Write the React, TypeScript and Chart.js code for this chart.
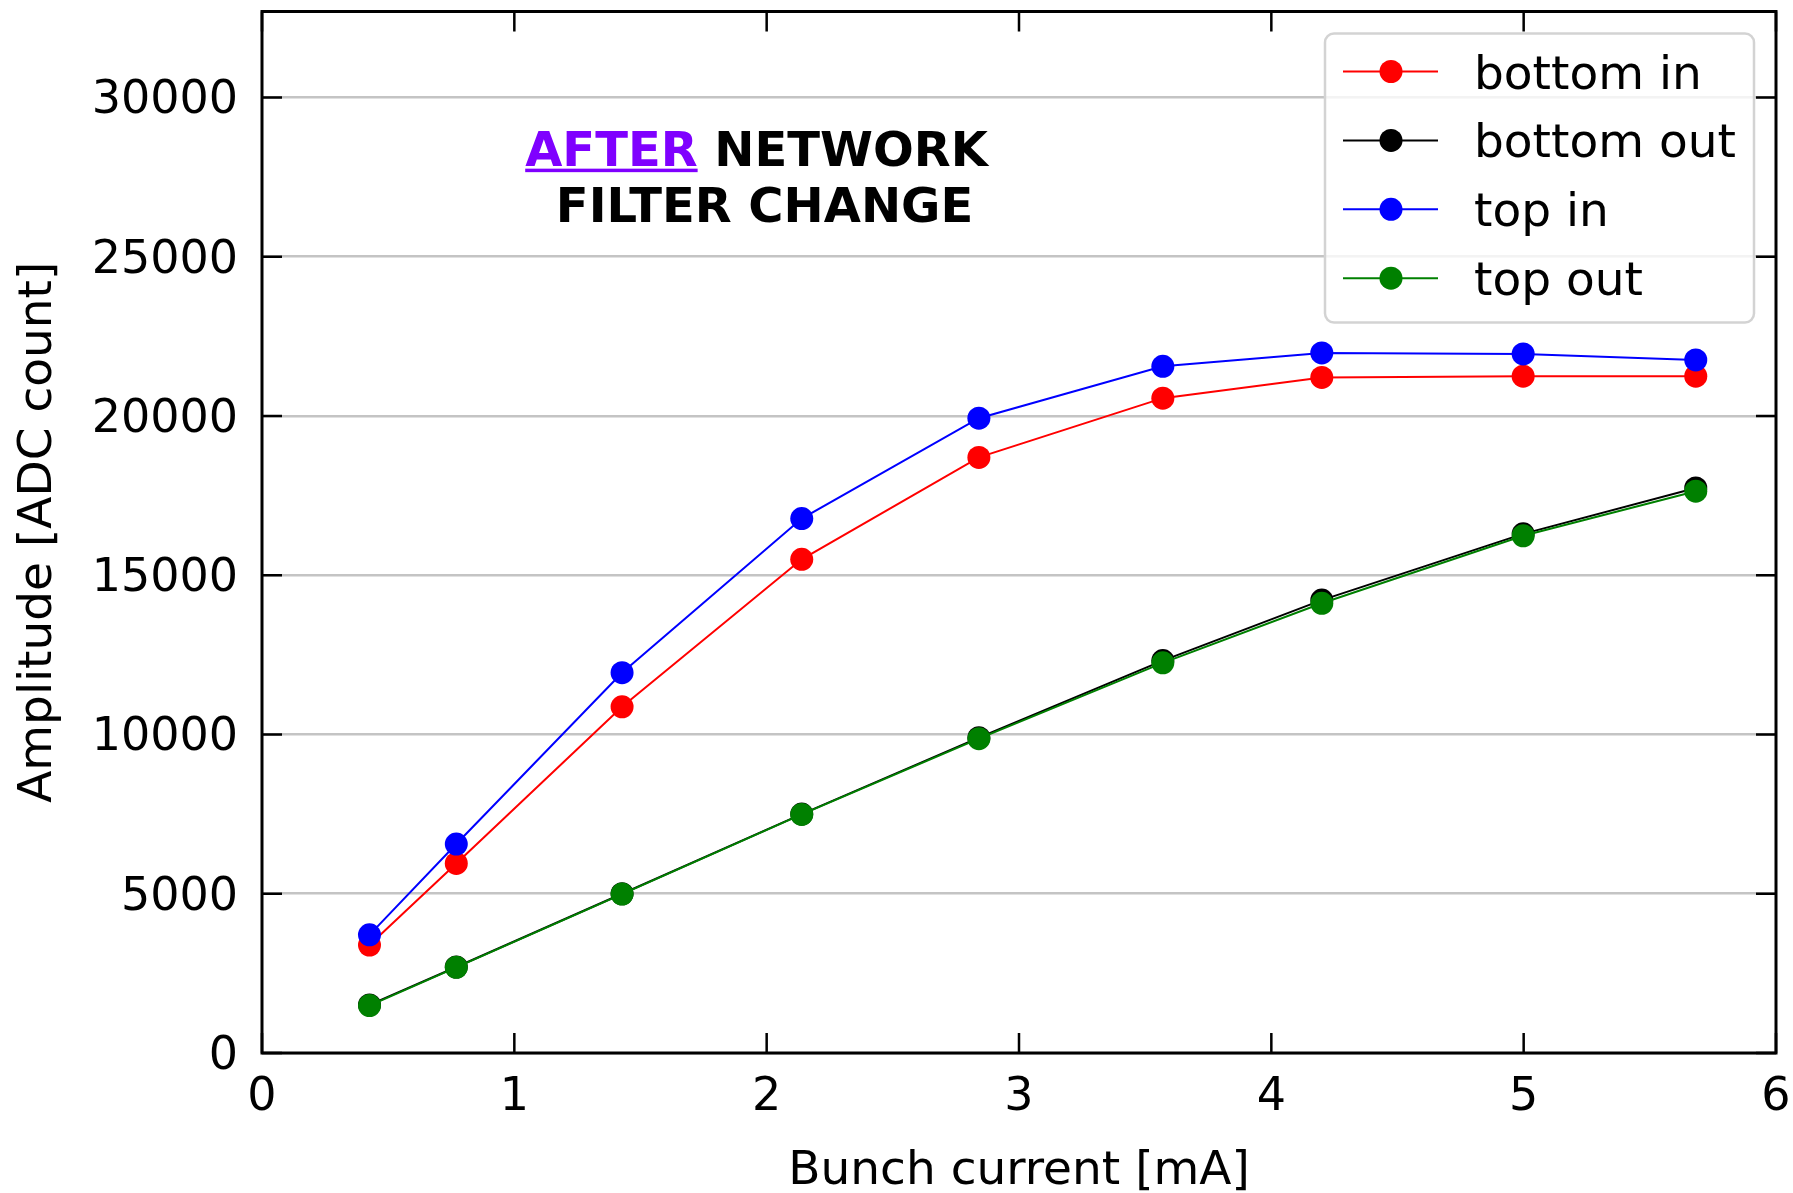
import React, { useEffect, useRef } from 'react';
import { Chart, registerables } from 'chart.js';

Chart.register(...registerables);

// ---- data ----
const X_CURRENT = [0.426, 0.770, 1.427, 2.139, 2.841, 3.570, 4.200, 4.998, 5.682];
const BOTTOM_IN = [3390, 5950, 10870, 15500, 18700, 20560, 21210, 21250, 21250];
const BOTTOM_OUT = [1510, 2700, 5000, 7500, 9900, 12320, 14220, 16300, 17740];
const TOP_IN = [3710, 6560, 11940, 16780, 19930, 21560, 21980, 21950, 21760];
const TOP_OUT = [1490, 2690, 4990, 7490, 9870, 12250, 14120, 16240, 17640];

const SERIES_LABELS = ['bottom in', 'bottom out', 'top in', 'top out'];
const SERIES_COLORS = ['#ff0000', '#000000', '#0000ff', '#008000'];
const SERIES_VALUES = [BOTTOM_IN, BOTTOM_OUT, TOP_IN, TOP_OUT];

const X_TICKS = [0, 1, 2, 3, 4, 5, 6];
const Y_TICKS = [0, 5000, 10000, 15000, 20000, 25000, 30000];
const X_TITLE = 'Bunch current [mA]';
const Y_TITLE = 'Amplitude [ADC count]';
const NOTE_HIGHLIGHT = 'AFTER';
const NOTE_LINE1_REST = ' NETWORK';
const NOTE_LINE2 = 'FILTER CHANGE';

const FONT = '"DejaVu Sans", "Liberation Sans", sans-serif';

const framePlugin = {
  id: 'mplFrame',
  afterDraw(chart: any) {
    const ctx = chart.ctx as CanvasRenderingContext2D;
    const { left, right, top, bottom } = chart.chartArea;
    const xs = chart.scales.x;
    const ys = chart.scales.y;
    ctx.save();
    // inward ticks
    ctx.strokeStyle = '#000';
    ctx.lineWidth = 2.5;
    ctx.beginPath();
    X_TICKS.forEach((v) => {
      const px = xs.getPixelForValue(v);
      ctx.moveTo(px, bottom);
      ctx.lineTo(px, bottom - 20);
      ctx.moveTo(px, top);
      ctx.lineTo(px, top + 20);
    });
    Y_TICKS.forEach((v) => {
      const py = ys.getPixelForValue(v);
      ctx.moveTo(left, py);
      ctx.lineTo(left + 20, py);
      ctx.moveTo(right, py);
      ctx.lineTo(right - 20, py);
    });
    ctx.stroke();
    // frame
    ctx.lineWidth = 3;
    ctx.strokeRect(left, top, right - left, bottom - top);

    // annotation
    ctx.font = `bold 48px ${FONT}`;
    ctx.textBaseline = 'alphabetic';
    ctx.textAlign = 'left';
    const cx1 = xs.getPixelForValue(1.96);
    const by1 = ys.getPixelForValue(27860);
    const wHi = ctx.measureText(NOTE_HIGHLIGHT).width;
    const wRest = ctx.measureText(NOTE_LINE1_REST).width;
    const x1 = cx1 - (wHi + wRest) / 2;
    ctx.fillStyle = '#7f00ff';
    ctx.fillText(NOTE_HIGHLIGHT, x1, by1);
    ctx.fillRect(x1, by1 + 3, wHi, 3.5);
    ctx.fillStyle = '#000';
    ctx.fillText(NOTE_LINE1_REST, x1 + wHi, by1);
    ctx.textAlign = 'center';
    ctx.fillText(NOTE_LINE2, cx1 + 8, by1 + 56);

    // legend
    const bw = 429;
    const bh = 289;
    const bx = right - 22 - bw;
    const by = top + 22;
    ctx.beginPath();
    (ctx as any).roundRect(bx, by, bw, bh, 9);
    ctx.fillStyle = 'rgba(255,255,255,0.8)';
    ctx.fill();
    ctx.strokeStyle = '#d3d3d3';
    ctx.lineWidth = 2.5;
    ctx.stroke();
    ctx.font = `47px ${FONT}`;
    ctx.textAlign = 'left';
    ctx.textBaseline = 'alphabetic';
    SERIES_LABELS.forEach((lab, i) => {
      const ry = by + 38 + i * 68.9;
      const col = SERIES_COLORS[i];
      ctx.strokeStyle = col;
      ctx.lineWidth = 2;
      ctx.beginPath();
      ctx.moveTo(bx + 18, ry);
      ctx.lineTo(bx + 113, ry);
      ctx.stroke();
      ctx.fillStyle = col;
      ctx.beginPath();
      ctx.arc(bx + 66, ry, 11.5, 0, Math.PI * 2);
      ctx.fill();
      ctx.fillStyle = '#000';
      ctx.fillText(lab, bx + 149, ry + 17);
    });
    ctx.restore();
  },
};

export default function App() {
  const ref = useRef<HTMLCanvasElement | null>(null);

  useEffect(() => {
    const canvas = ref.current;
    if (!canvas) return;
    const order = [3, 2, 1, 0];
    const chart = new Chart(canvas, {
      type: 'line',
      data: {
        datasets: SERIES_LABELS.map((label, i) => ({
          label,
          data: X_CURRENT.map((x, k) => ({ x, y: SERIES_VALUES[i][k] })),
          borderColor: SERIES_COLORS[i],
          backgroundColor: SERIES_COLORS[i],
          pointBackgroundColor: SERIES_COLORS[i],
          pointBorderColor: SERIES_COLORS[i],
          pointBorderWidth: 0,
          pointRadius: 11.5,
          pointHoverRadius: 11.5,
          borderWidth: 2,
          tension: 0,
          fill: false,
          order: order[i],
        })),
      },
      options: {
        responsive: false,
        animation: false,
        events: [],
        layout: { padding: { top: 11, right: 17, left: 0, bottom: 0 } },
        plugins: {
          legend: { display: false },
          tooltip: { enabled: false },
          title: { display: false },
        },
        scales: {
          x: {
            type: 'linear',
            min: 0,
            max: 6,
            afterFit(scale: any) {
              scale.height = 140;
              scale.paddingLeft = 0;
              scale.paddingRight = 0;
            },
            afterBuildTicks(scale: any) {
              scale.ticks = X_TICKS.map((v) => ({ value: v }));
            },
            ticks: {
              stepSize: 1,
              color: '#000',
              padding: 17,
              maxRotation: 0,
              autoSkip: false,
              font: { family: FONT, size: 46, lineHeight: 1.2 },
              callback: (v: any) => String(v),
            },
            grid: { display: false, drawTicks: false },
            border: { display: false },
            title: {
              display: true,
              text: X_TITLE,
              color: '#000',
              font: { family: FONT, size: 47, lineHeight: 1.2 },
              padding: { top: 0, bottom: -7 },
            },
          },
          y: {
            type: 'linear',
            min: 0,
            max: 32700,
            afterFit(scale: any) {
              scale.width = 262;
              scale.paddingTop = 0;
              scale.paddingBottom = 0;
            },
            afterBuildTicks(scale: any) {
              scale.ticks = Y_TICKS.map((v) => ({ value: v }));
            },
            ticks: {
              stepSize: 5000,
              includeBounds: false,
              color: '#000',
              padding: 24,
              labelOffset: 4,
              autoSkip: false,
              font: { family: FONT, size: 46, lineHeight: 1.2 },
              callback: (v: any) => String(v),
            },
            grid: { display: true, color: '#c4c4c4', lineWidth: 2.5, drawTicks: false },
            border: { display: false },
            title: {
              display: true,
              text: Y_TITLE,
              color: '#000',
              font: { family: FONT, size: 47, lineHeight: 1.2 },
              padding: { top: 11, bottom: 0 },
            },
          },
        },
      },
      plugins: [framePlugin],
    } as any);
    return () => chart.destroy();
  }, []);

  return (
    <div style={{ position: 'fixed', left: 0, top: 0, width: 1793, height: 1193, background: '#fff' }}>
      <canvas ref={ref} width={1793} height={1193} style={{ display: 'block', width: 1793, height: 1193 }} />
    </div>
  );
}
